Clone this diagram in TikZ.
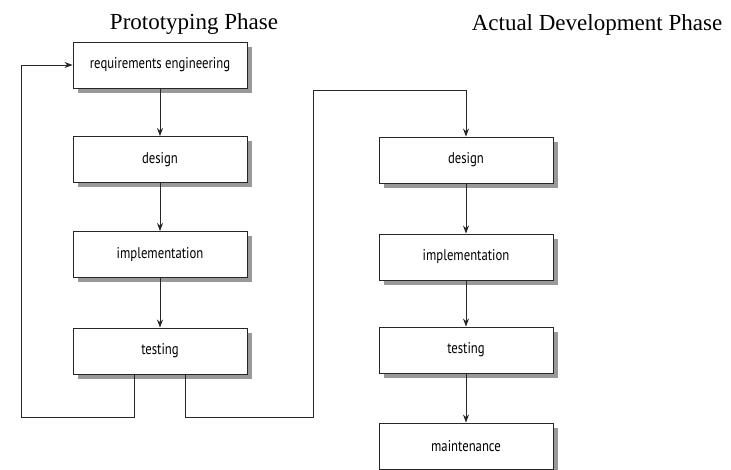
\documentclass[tikz,border=0pt]{standalone}
\usepackage{fontspec}
\setmainfont{Liberation Serif}
\newfontfamily\boxfont[FakeStretch=0.82]{PT Sans}
\usetikzlibrary{arrows.meta,shadows}
\begin{document}
\begin{tikzpicture}[x=1pt,y=-1pt,
  stage/.style={draw=black!85, line width=0.9pt, fill=white, minimum width=174pt, minimum height=46pt, inner sep=0pt,
    text=black, font=\boxfont\fontsize{15.5}{17}\selectfont,
    drop shadow={shadow xshift=5pt, shadow yshift=-5pt, fill=black!40, opacity=1}},
  flow/.style={draw=black!85, line width=0.9pt, -{Stealth[length=8pt,width=6pt]}},
  phase/.style={font=\fontsize{23}{26}\selectfont, anchor=base, inner sep=0pt}]
\useasboundingbox (0,0) rectangle (731,470);
\node[phase] (pt) at (194,30) {Prototyping Phase};
\node[phase] (at) at (597,31) {Actual Development Phase};
\node[stage] (req) at (160,65) {requirements engineering};
\node[stage] (d1) at (160,159.5) {design};
\node[stage] (i1) at (160,254.5) {implementation};
\node[stage] (t1) at (160,351) {testing};
\node[stage] (d2) at (466,160) {design};
\node[stage] (i2) at (466,257) {implementation};
\node[stage] (t2) at (466,350) {testing};
\node[stage] (m2) at (466,446) {maintenance};
\draw[flow] (req) -- (d1);
\draw[flow] (d1) -- (i1);
\draw[flow] (i1) -- (t1);
\draw[flow] (d2) -- (i2);
\draw[flow] (i2) -- (t2);
\draw[flow] (t2) -- (m2);
\coordinate (c1) at (134,417);
\coordinate (c2) at (21,417);
\coordinate (c3) at (21,65);
\draw[flow] (t1.south -| c1) -- (c1) -- (c2) -- (c3) -- (req.west);
\coordinate (e1) at (185,417);
\coordinate (e2) at (313,417);
\coordinate (e3) at (313,90);
\coordinate (e4) at (466,90);
\draw[flow] (t1.south -| e1) -- (e1) -- (e2) -- (e3) -- (e4) -- (d2.north);
\end{tikzpicture}
\end{document}
